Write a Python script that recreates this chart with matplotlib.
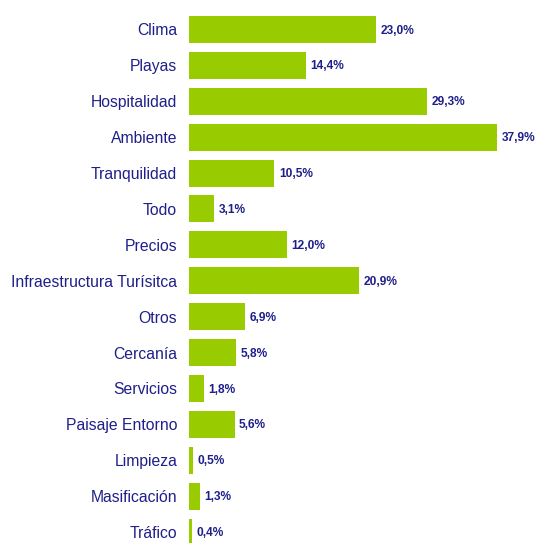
import matplotlib
matplotlib.use("Agg")
import matplotlib.pyplot as plt

categorias = [
    "Clima", "Playas", "Hospitalidad", "Ambiente", "Tranquilidad", "Todo",
    "Precios", "Infraestructura Turísitca", "Otros", "Cercanía", "Servicios",
    "Paisaje Entorno", "Limpieza", "Masificación", "Tráfico",
]
valores = [23.0, 14.4, 29.3, 37.9, 10.5, 3.1, 12.0, 20.9, 6.9, 5.8, 1.8, 5.6, 0.5, 1.3, 0.4]

VERDE = "#99cc00"
AZUL = "#1f1f8a"

fig = plt.figure(figsize=(5.35, 5.43), dpi=100)
ax = fig.add_axes([189 / 535, 0, 325 / 535, 531.5 / 543])

pos = list(range(len(categorias)))
ax.barh(pos, valores, height=0.75, color=VERDE)

for y, v in zip(pos, valores):
    ax.text(v + 0.55, y + 0.03, f"{v:.1f}%".replace(".", ","), va="center", ha="left",
            fontsize=8.6, fontweight="bold", color=AZUL, family="Liberation Sans",
            clip_on=False)

ax.set_xlim(0, 40)
ax.set_ylim(14.306, -0.5)
ax.set_yticks(pos)
ax.set_yticklabels(categorias, fontsize=11.3, color=AZUL, family="Liberation Sans")
ax.tick_params(axis="y", length=0, pad=8.5)
ax.set_xticks([])
for s in ax.spines.values():
    s.set_visible(False)

fig.savefig("out.png", dpi=100)
